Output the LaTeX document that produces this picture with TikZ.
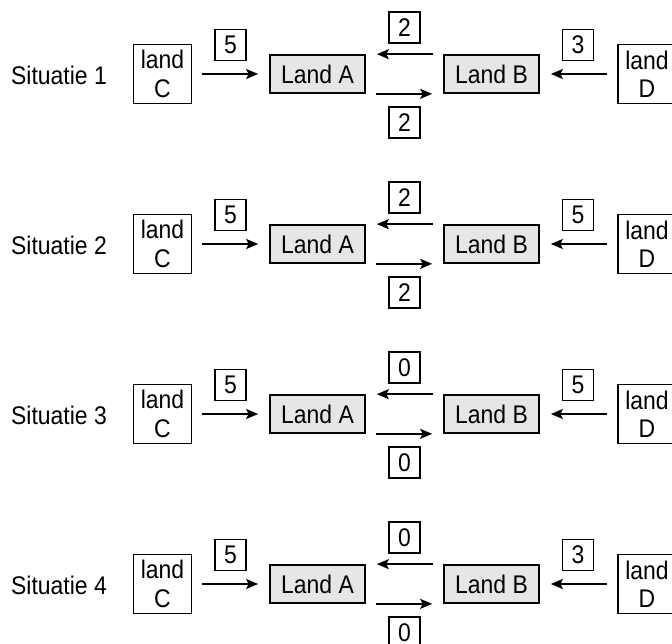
\documentclass[tikz,border=0pt]{standalone}
\usepackage{fontspec}
\setmainfont{Liberation Sans}[FakeStretch=0.9]
\usepackage{tikz}
\usetikzlibrary{arrows.meta}
\definecolor{landgrijs}{HTML}{E6E6E6}

\begin{document}
\begin{tikzpicture}[x=1pt, y=1pt,
    font=\fontsize{25.5}{28.3}\selectfont, line width=1.7pt,
    land/.style={draw, fill=landgrijs, minimum width=95pt, minimum height=38pt, inner sep=0pt},
    buur/.style={draw, align=center, minimum width=58pt, minimum height=59pt, inner sep=0pt},
    num/.style={draw, minimum size=31pt, inner sep=0pt},
    flow/.style={-{Stealth[length=12pt, width=10pt, inset=2.5pt]}, shorten <=10pt, shorten >=11pt}]
      \clip (0, 0) rectangle (672, -644);
      % situatie 1
      \node[inner sep=0pt] (s1) at (59, -75) {Situatie 1};
      \node[buur] (c1) at (162.5, -74) {land\\C};
      \node[num] (nc1) at (230.5, -45) {5};
      \node[land] (a1) at (317.5, -74) {Land A};
      \node[num] (nba1) at (404.5, -27.5) {2};
      \node[num] (nab1) at (404.5, -122.5) {2};
      \node[land] (b1) at (491.5, -74) {Land B};
      \node[num] (nd1) at (578, -45) {3};
      \node[buur] (d1) at (647, -74) {land\\D};
      \draw[flow] (c1) -- (a1);
      \draw[flow] (b1.north west) -- (a1.north east);
      \draw[flow] (a1.south east) -- (b1.south west);
      \draw[flow] (d1) -- (b1);
      % situatie 2
      \node[inner sep=0pt] (s2) at (59, -245) {Situatie 2};
      \node[buur] (c2) at (162.5, -244) {land\\C};
      \node[num] (nc2) at (230.5, -215) {5};
      \node[land] (a2) at (317.5, -244) {Land A};
      \node[num] (nba2) at (404.5, -197.5) {2};
      \node[num] (nab2) at (404.5, -292.5) {2};
      \node[land] (b2) at (491.5, -244) {Land B};
      \node[num] (nd2) at (578, -215) {5};
      \node[buur] (d2) at (647, -244) {land\\D};
      \draw[flow] (c2) -- (a2);
      \draw[flow] (b2.north west) -- (a2.north east);
      \draw[flow] (a2.south east) -- (b2.south west);
      \draw[flow] (d2) -- (b2);
      % situatie 3
      \node[inner sep=0pt] (s3) at (59, -415) {Situatie 3};
      \node[buur] (c3) at (162.5, -414) {land\\C};
      \node[num] (nc3) at (230.5, -385) {5};
      \node[land] (a3) at (317.5, -414) {Land A};
      \node[num] (nba3) at (404.5, -367.5) {0};
      \node[num] (nab3) at (404.5, -462.5) {0};
      \node[land] (b3) at (491.5, -414) {Land B};
      \node[num] (nd3) at (578, -385) {5};
      \node[buur] (d3) at (647, -414) {land\\D};
      \draw[flow] (c3) -- (a3);
      \draw[flow] (b3.north west) -- (a3.north east);
      \draw[flow] (a3.south east) -- (b3.south west);
      \draw[flow] (d3) -- (b3);
      % situatie 4
      \node[inner sep=0pt] (s4) at (59, -585) {Situatie 4};
      \node[buur] (c4) at (162.5, -584) {land\\C};
      \node[num] (nc4) at (230.5, -555) {5};
      \node[land] (a4) at (317.5, -584) {Land A};
      \node[num] (nba4) at (404.5, -537.5) {0};
      \node[num] (nab4) at (404.5, -632.5) {0};
      \node[land] (b4) at (491.5, -584) {Land B};
      \node[num] (nd4) at (578, -555) {3};
      \node[buur] (d4) at (647, -584) {land\\D};
      \draw[flow] (c4) -- (a4);
      \draw[flow] (b4.north west) -- (a4.north east);
      \draw[flow] (a4.south east) -- (b4.south west);
      \draw[flow] (d4) -- (b4);
    \end{tikzpicture}
\end{document}
